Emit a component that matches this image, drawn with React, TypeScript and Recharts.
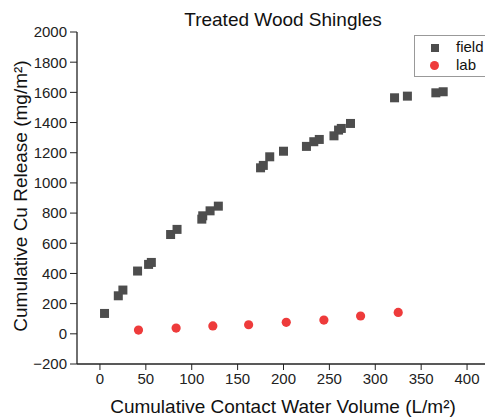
import React from 'react';
import { ScatterChart, Scatter, XAxis, YAxis } from 'recharts';

const fieldX = [5, 20, 25, 41, 53, 56, 77, 84, 111, 112, 120, 129, 175, 178, 185, 200, 225, 233, 239, 255, 260, 263, 273, 321, 335, 366, 374];
const fieldY = [135, 252, 290, 416, 460, 473, 658, 692, 760, 782, 815, 846, 1100, 1116, 1173, 1210, 1242, 1273, 1288, 1312, 1350, 1361, 1394, 1564, 1575, 1597, 1604];
const labX = [42, 83, 123, 162, 203, 244, 284, 325];
const labY = [25, 38, 52, 60, 76, 91, 118, 142];

const xMajorTicks = [0, 50, 100, 150, 200, 250, 300, 350, 400];
const xMinorTicks = [-25, 0, 25, 50, 75, 100, 125, 150, 175, 200, 225, 250, 275, 300, 325, 350, 375, 400, 425];
const yMajorTicks = [-200, 0, 200, 400, 600, 800, 1000, 1200, 1400, 1600, 1800, 2000];
const yMinorTicks = [-200, -100, 0, 100, 200, 300, 400, 500, 600, 700, 800, 900, 1000, 1100, 1200, 1300, 1400, 1500, 1600, 1700, 1800, 1900, 2000];

const fieldData = fieldX.map((x, i) => ({ x, y: fieldY[i] }));
const labData = labX.map((x, i) => ({ x, y: labY[i] }));

const FONT = 'Liberation Sans, Arial, sans-serif';
const AXIS = '#222';

const Square = (p: any) => <rect x={p.cx - 4.5} y={p.cy - 4.5} width={9} height={9} fill="#4d4d4d" />;
const Dot = (p: any) => <circle cx={p.cx} cy={p.cy} r={4.6} fill="#ee3b3b" />;
const Empty = () => <g />;

const fmtY = (v: number) => (v < 0 ? '\u2212' + Math.abs(v) : String(v));

export default function App() {
  return (
    <div style={{ position: 'fixed', left: 0, top: 0, width: 485, height: 417, overflow: 'hidden', background: '#fff', fontFamily: FONT }}>
      <ScatterChart width={500} height={417} margin={{ top: 32, right: 10, bottom: 0, left: 0 }}>
        <XAxis xAxisId="minor" type="number" dataKey="x" domain={[-25, 425]} ticks={xMinorTicks} allowDataOverflow
          height={0} axisLine={false} tick={Empty} tickSize={4} tickLine={{ stroke: AXIS }} />
        <XAxis xAxisId="main" type="number" dataKey="x" domain={[-25, 425]} ticks={xMajorTicks} allowDataOverflow
          height={53} axisLine={{ stroke: AXIS, strokeWidth: 1.3 }} tickLine={{ stroke: AXIS }} tickSize={6} tickMargin={3}
          tick={{ fill: '#222', fontSize: 15, fontFamily: FONT }} />
        <XAxis xAxisId="top" orientation="top" type="number" dataKey="x" domain={[-25, 425]} height={0}
          tick={false} tickLine={false} axisLine={{ stroke: AXIS, strokeWidth: 1.3 }} />
        <YAxis yAxisId="minor" type="number" dataKey="y" domain={[-200, 2000]} ticks={yMinorTicks} allowDataOverflow
          width={0} axisLine={false} tick={Empty} tickSize={4} tickLine={{ stroke: AXIS }} />
        <YAxis yAxisId="main" type="number" dataKey="y" domain={[-200, 2000]} ticks={yMajorTicks} allowDataOverflow
          width={77} axisLine={{ stroke: AXIS, strokeWidth: 1.3 }} tickLine={{ stroke: AXIS }} tickSize={7} tickMargin={3}
          tickFormatter={fmtY} tick={{ fill: '#222', fontSize: 15, fontFamily: FONT }} />
        <Scatter name="field" data={fieldData} xAxisId="main" yAxisId="main" shape={Square} isAnimationActive={false} />
        <Scatter name="lab" data={labData} xAxisId="main" yAxisId="main" shape={Dot} isAnimationActive={false} />
      </ScatterChart>
      <div style={{ position: 'absolute', left: 0, width: 566, top: 9, textAlign: 'center', fontSize: 19, lineHeight: '22px', color: '#111' }}>
        Treated Wood Shingles
      </div>
      <div style={{ position: 'absolute', left: 0, width: 566, top: 396, textAlign: 'center', fontSize: 19, lineHeight: '22px', color: '#111' }}>
        Cumulative Contact Water Volume (L/m²)
      </div>
      <div style={{ position: 'absolute', left: 21, top: 196, width: 0, height: 0 }}>
        <div style={{ position: 'absolute', left: -200, top: -11, width: 400, textAlign: 'center', fontSize: 19, color: '#111', transform: 'rotate(-90deg)', whiteSpace: 'nowrap', lineHeight: '22px' }}>
          Cumulative Cu Release (mg/m²)
        </div>
      </div>
      <div style={{ position: 'absolute', left: 414, top: 35, width: 90, height: 40, border: '1px solid #999', background: '#fff', fontSize: 15, color: '#111' }}>
        <div style={{ position: 'absolute', left: 16, top: 8, width: 8, height: 8, background: '#4d4d4d' }} />
        <div style={{ position: 'absolute', left: 41, top: 2, lineHeight: '18px' }}>field</div>
        <div style={{ position: 'absolute', left: 15, top: 25, width: 9, height: 9, borderRadius: '50%', background: '#ee3b3b' }} />
        <div style={{ position: 'absolute', left: 41, top: 20, lineHeight: '18px' }}>lab</div>
      </div>
    </div>
  );
}
